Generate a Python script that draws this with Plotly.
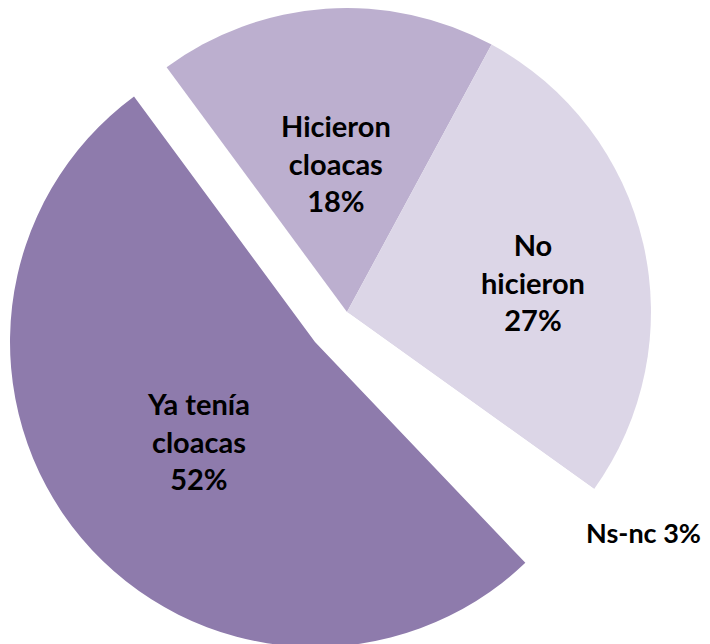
import plotly.graph_objects as go

# survey answers, percent
labels = ['Hicieron<br>cloacas', 'No<br>hicieron', 'Ns-nc', 'Ya tenía<br>cloacas']
values = [18, 27, 3, 52]
colors = ['#BCAFCF', '#DCD6E7', '#FFFFFF', '#8E7BAC']

# the "Ya tenía" slice is drawn apart, as a second pie with a shifted centre
main_colors = colors[:3] + ['rgba(0,0,0,0)']
out_colors = ['rgba(0,0,0,0)'] * 3 + [colors[3]]

fig = go.Figure()
fig.add_trace(go.Pie(
    labels=labels, values=values, textinfo='none',
    marker=dict(colors=main_colors, line=dict(width=0)),
    sort=False, direction='clockwise', rotation=-36.4,
    hoverinfo='skip',
    domain=dict(x=[0.0493, 0.9056], y=[0.0559, 1.0]),
))
fig.add_trace(go.Pie(
    labels=labels, values=values, textinfo='none',
    marker=dict(colors=out_colors, line=dict(width=0)),
    sort=False, direction='clockwise', rotation=-36.4,
    hoverinfo='skip',
    domain=dict(x=[0.0028, 0.862], y=[0.0078, 0.955]),
))

# slice labels
label_pos = [(0.462, 0.760), (0.7394, 0.5738), (0.8944, 0.1848), (0.2683, 0.3276)]
for i, (l, v) in enumerate(zip(labels, values)):
    x, y = label_pos[i]
    txt = f'{l} {v}%' if i == 2 else f'{l}<br>{v}%'
    fig.add_annotation(x=x, y=y, xref='paper', yref='paper', text=txt,
                       showarrow=False, xanchor='center', yanchor='middle',
                       font=dict(family='Lato', size=27 if i == 2 else 29,
                                 color='black', weight='bold'))

fig.update_layout(
    width=710, height=644,
    margin=dict(l=0, r=0, t=0, b=0),
    paper_bgcolor='white', plot_bgcolor='white',
    showlegend=False,
)
fig.write_html('out.html')
